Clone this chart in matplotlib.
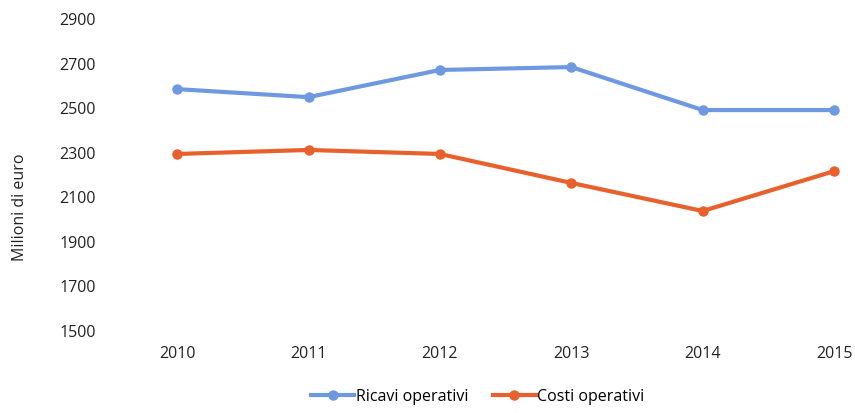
import matplotlib.pyplot as plt

plt.rcParams['font.family'] = ['Open Sans', 'DejaVu Sans']

anni = ['2010', '2011', '2012', '2013', '2014', '2015']
ricavi = [2581, 2545, 2667, 2680, 2487, 2487]
costi = [2290, 2308, 2290, 2160, 2034, 2213]
y_ticks = [1500, 1700, 1900, 2100, 2300, 2500, 2700, 2900]

fig = plt.figure(figsize=(8.55, 4.14), dpi=100)
ax = fig.add_axes([0.13, 0.2005, 0.855, 0.7535])

x = list(range(len(anni)))
ax.plot(x, ricavi, color='#6e98e0', lw=3, marker='o', ms=6.5, label='Ricavi operativi', clip_on=False)
ax.plot(x, costi, color='#e8602c', lw=3, marker='o', ms=6.5, label='Costi operativi', clip_on=False)

ax.set_xlim(-0.502, 5.061)
ax.set_ylim(1500, 2900)
ax.set_yticks(y_ticks)
ax.set_xticks(x)
ax.set_xticklabels(anni)
ax.tick_params(axis='both', length=0, labelsize=11.5, colors='#222222')
ax.tick_params(axis='y', pad=11)
ax.tick_params(axis='x', pad=11)
for s in ax.spines.values():
    s.set_visible(False)

fig.text(0.023, 0.5, 'Milioni di euro', rotation=90, va='center', ha='center',
         fontsize=11.5, color='#222222')

fig.legend(loc='center', bbox_to_anchor=(0.559, 0.04), ncol=2, frameon=False,
           fontsize=11.5, handlelength=2.7, columnspacing=1.5, handletextpad=0.1)

fig.savefig('out.png', dpi=100)
